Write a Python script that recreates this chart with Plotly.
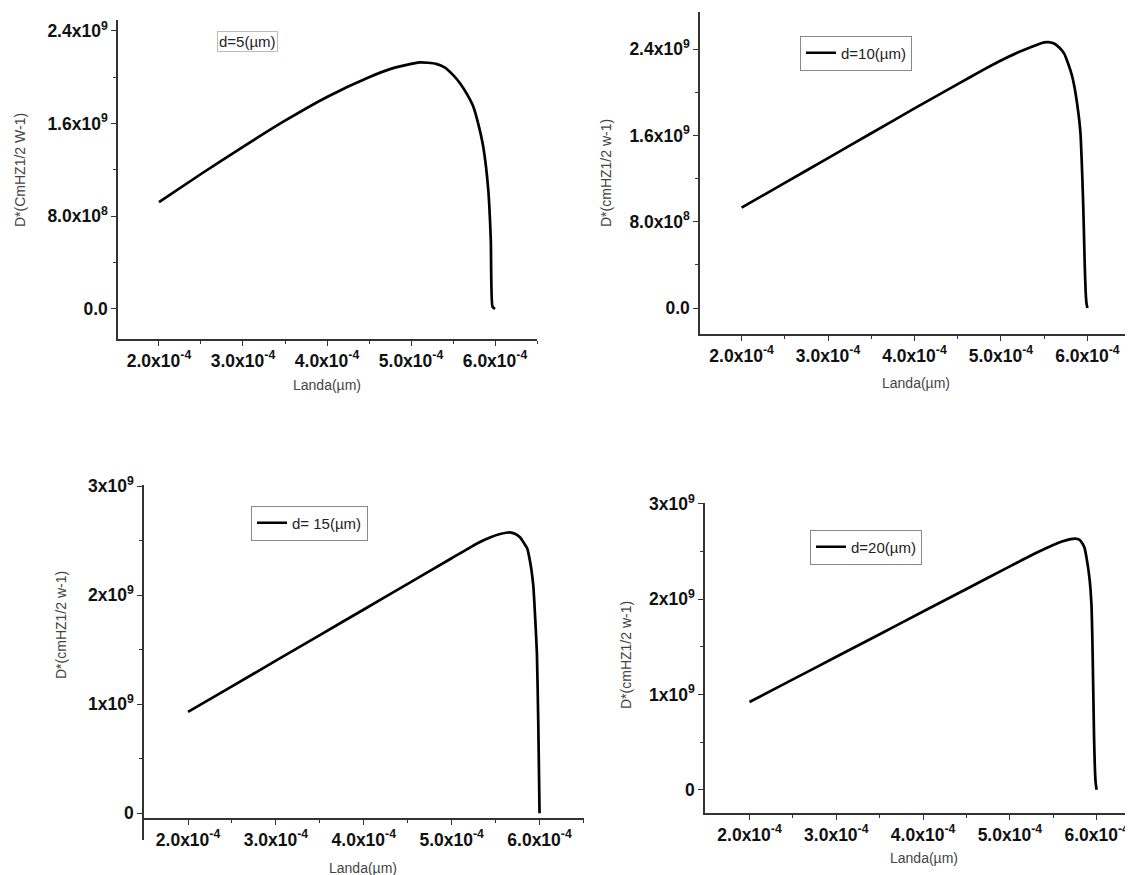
import plotly.graph_objects as go

# ---------------- data ----------------
LANDA_SCALE = 1e-4   # µm
D_SCALE = 1e9

landa_d5 = [2.0, 2.5, 3.0, 3.5, 4.0, 4.5, 4.75, 5.0, 5.1, 5.2, 5.3, 5.4, 5.5, 5.583, 5.67,
            5.742, 5.8, 5.86, 5.92, 5.95, 5.97, 6.0]
dstar_d5 = [0.923, 1.165, 1.40, 1.625, 1.83, 2.00, 2.07, 2.115, 2.128, 2.125, 2.115, 2.085, 2.02, 1.948, 1.85,
            1.746, 1.60, 1.40, 1.027, 0.595, 0.02, 0.0]

landa_d10 = [2.0, 2.5, 3.0, 3.5, 4.0, 4.5, 4.8, 5.0, 5.2, 5.35, 5.45, 5.5, 5.55, 5.62, 5.68,
             5.73, 5.78, 5.82, 5.85, 5.88, 5.9, 5.92, 5.935, 5.95, 5.96, 5.97, 5.98, 5.99, 6.0]
dstar_d10 = [0.93, 1.16, 1.39, 1.62, 1.85, 2.075, 2.21, 2.295, 2.37, 2.42, 2.45, 2.463, 2.465, 2.45, 2.41,
             2.36, 2.26, 2.16, 2.05, 1.90, 1.78, 1.62, 1.35, 1.0, 0.70, 0.38, 0.15, 0.04, 0.0]

landa_d15 = [2.0, 2.5, 3.0, 3.5, 4.0, 4.5, 5.0, 5.3, 5.45, 5.55, 5.62, 5.66, 5.72, 5.78, 5.83,
             5.86, 5.89, 5.91, 5.93, 5.95, 5.97, 5.985, 5.995, 6.0]
dstar_d15 = [0.93, 1.165, 1.40, 1.635, 1.87, 2.105, 2.34, 2.48, 2.535, 2.562, 2.574, 2.578, 2.565, 2.53, 2.47,
             2.43, 2.32, 2.22, 2.08, 1.80, 1.47, 0.86, 0.30, 0.0]

landa_d20 = [2.0, 2.5, 3.0, 3.5, 4.0, 4.5, 5.0, 5.3, 5.5, 5.6, 5.7, 5.75, 5.8, 5.84,
             5.86, 5.89, 5.92, 5.94, 5.95, 5.96, 5.97, 5.98, 5.99, 6.0]
dstar_d20 = [0.921, 1.158, 1.395, 1.632, 1.87, 2.107, 2.345, 2.485, 2.57, 2.605, 2.63, 2.636, 2.625, 2.58,
             2.54, 2.40, 2.20, 1.95, 1.61, 1.10, 0.56, 0.22, 0.06, 0.0]

series_names = ["d=5(µm)", "d=10(µm)", "d= 15(µm)", "d=20(µm)"]

x_tick_vals = [2.0, 3.0, 4.0, 5.0, 6.0]
x_tick_text = ["2.0x10<sup>-4</sup>", "3.0x10<sup>-4</sup>", "4.0x10<sup>-4</sup>",
               "5.0x10<sup>-4</sup>", "6.0x10<sup>-4</sup>"]
y_tick_vals_top = [0.0, 0.8, 1.6, 2.4]
y_tick_text_top = ["0.0", "8.0x10<sup>8</sup>", "1.6x10<sup>9</sup>", "2.4x10<sup>9</sup>"]
y_tick_vals_bot = [0, 1, 2, 3]
y_tick_text_bot = ["0", "1x10<sup>9</sup>", "2x10<sup>9</sup>", "3x10<sup>9</sup>"]

x_title = "Landa(µm)"
y_titles = ["D*(CmHZ1/2 W-1)", "D*(cmHZ1/2 w-1)", "D*(cmHZ1/2 w-1)", "D*(cmHZ1/2 w-1)"]

# ---------------- layout helpers ----------------
W, H = 1133, 875
OFF = 8  # page body margin compensation
def px(x):
    return (x - OFF) / W
def py(y):
    return 1 - (y - OFF) / H

FONT = "Liberation Sans, Arial, sans-serif"
AX_COLOR = "#333333"
TICK_SIZE = 17.5

def bold(lst):
    return ["<b>" + t + "</b>" for t in lst]

def xaxis(dom, rng, **kw):
    d = dict(domain=dom, range=[rng[0] * LANDA_SCALE, rng[1] * LANDA_SCALE],
             tickmode="array", tickvals=[v * LANDA_SCALE for v in x_tick_vals],
             ticktext=bold(x_tick_text), showline=True, linecolor=AX_COLOR, linewidth=1.5,
             ticks="outside", ticklen=5, tickwidth=1.2, tickcolor=AX_COLOR,
             showgrid=False, zeroline=False, automargin=False,
             tickfont=dict(family=FONT, size=TICK_SIZE, color="#111"),
             minor=dict(tickmode="array",
                        tickvals=[(v + 0.5) * LANDA_SCALE for v in x_tick_vals],
                        ticks="outside", ticklen=3, tickcolor=AX_COLOR, tickwidth=1))
    d.update(kw)
    return d

def yaxis(dom, rng, vals, text, **kw):
    step = vals[1] - vals[0]
    d = dict(domain=dom, range=[rng[0] * D_SCALE, rng[1] * D_SCALE],
             tickmode="array", tickvals=[v * D_SCALE for v in vals],
             ticktext=bold(text), showline=True, linecolor=AX_COLOR, linewidth=1.5,
             ticks="outside", ticklen=5, tickwidth=1.2, tickcolor=AX_COLOR,
             showgrid=False, zeroline=False, automargin=False,
             tickfont=dict(family=FONT, size=TICK_SIZE, color="#111"),
             minor=dict(tickmode="array",
                        tickvals=[(v + step / 2) * D_SCALE for v in vals],
                        ticks="outside", ticklen=3, tickcolor=AX_COLOR, tickwidth=1))
    d.update(kw)
    return d

fig = go.Figure()

data = [(landa_d5, dstar_d5), (landa_d10, dstar_d10), (landa_d15, dstar_d15), (landa_d20, dstar_d20)]
axes = [("x", "y"), ("x2", "y2"), ("x3", "y3"), ("x4", "y4")]
legends = [None, "legend2", "legend3", "legend4"]
for i, ((lx, ly), (xa, ya)) in enumerate(zip(data, axes)):
    tr = dict(x=[v * LANDA_SCALE for v in lx], y=[v * D_SCALE for v in ly],
              mode="lines", line=dict(color="black", width=2.7, shape="spline", smoothing=0.5),
              name=series_names[i], xaxis=xa, yaxis=ya)
    if legends[i] is None:
        tr["showlegend"] = False
    else:
        tr["legend"] = legends[i]
    fig.add_trace(go.Scatter(**tr))

def legend_box(x, yc):
    return dict(x=px(x), y=py(yc), xanchor="left", yanchor="middle",
                bordercolor="#888", borderwidth=1, bgcolor="white",
                font=dict(family=FONT, size=15, color="#222"),
                itemwidth=30, tracegroupgap=0)

fig.update_layout(
    width=W, height=H,
    margin=dict(l=0, r=0, t=0, b=0, autoexpand=False),
    paper_bgcolor="white", plot_bgcolor="white",
    font=dict(family=FONT),
    xaxis=xaxis([px(118), px(537)], [1.512, 6.5], anchor="y"),
    yaxis=yaxis([py(339), py(20)], [-0.259, 2.494], y_tick_vals_top, y_tick_text_top, anchor="x"),
    xaxis2=xaxis([px(700), px(1132)], [1.519, 6.516], anchor="y2"),
    yaxis2=yaxis([py(334), py(12)], [-0.241, 2.744], y_tick_vals_top, y_tick_text_top, anchor="x2"),
    xaxis3=xaxis([px(144), px(584)], [1.499, 6.506], anchor="free", position=py(819)),
    yaxis3=yaxis([py(840), py(485)], [-0.245, 3.012], y_tick_vals_bot, y_tick_text_bot, anchor="x3"),
    xaxis4=xaxis([px(705), min(1.0, px(1133))], [1.487, 6.419], anchor="y4"),
    yaxis4=yaxis([py(813), py(503)], [-0.245, 3.01], y_tick_vals_bot, y_tick_text_bot, anchor="x4"),
    legend2=legend_box(800, 53),
    legend3=legend_box(251, 523),
    legend4=legend_box(810, 547),
)

# legend of panel 1 (text only, boxed)
fig.add_annotation(x=px(247), y=py(42), xref="paper", yref="paper", showarrow=False,
                   xanchor="center", yanchor="middle",
                   text=series_names[0], font=dict(family=FONT, size=15, color="#222"),
                   bordercolor="#bbbbbb", borderwidth=1, borderpad=1, bgcolor="white")

# axis titles
xt_pos = [(327, 385), (916, 383), (363, 868), (924, 858)]
yt_pos = [(20, 170), (606, 173), (61, 625), (626, 655)]
for (xx, yy) in xt_pos:
    fig.add_annotation(x=px(xx), y=py(yy), xref="paper", yref="paper", showarrow=False,
                       xanchor="center", yanchor="middle",
                       text=x_title, font=dict(family=FONT, size=14, color="#444"))
for t, (xx, yy) in zip(y_titles, yt_pos):
    fig.add_annotation(x=px(xx), y=py(yy), xref="paper", yref="paper", showarrow=False,
                       xanchor="center", yanchor="middle",
                       text=t, textangle=-90, font=dict(family=FONT, size=14, color="#444"))

fig.write_html("out.html")
